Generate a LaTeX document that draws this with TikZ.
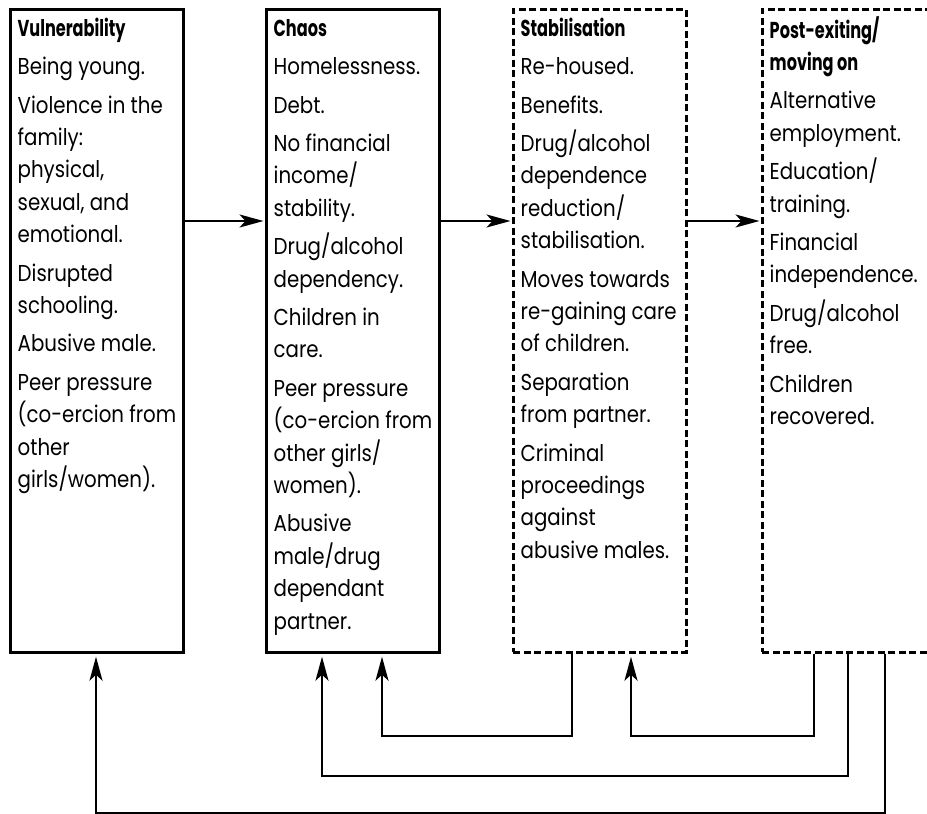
\documentclass[tikz,border=0pt]{standalone}
\usepackage{fontspec}
\setmainfont{Poppins}[FakeStretch=0.86]
\newfontfamily\headfont{Poppins}[FakeStretch=0.70]
\usetikzlibrary{arrows.meta}

\tikzset{
  stage/.style={draw, line width=2.7pt, minimum width=173pt, minimum height=643pt, anchor=north west, inner sep=0pt},
  later/.style={stage, dash pattern=on 7pt off 3.5pt},
  items/.style={anchor=north west, align=left, inner sep=0pt, font=\fontsize{23}{32.4}\selectfont},
  flow/.style={line width=2.3pt, ->, shorten >=3pt},
}
\newcommand{\stagehead}[1]{\rule{0pt}{20pt}{\headfont\bfseries #1}}

\begin{document}
\begin{tikzpicture}[x=1pt, y=-1pt, line join=miter, >={Stealth[length=24pt,width=13pt,inset=6pt]}]
\useasboundingbox (0,0) rectangle (927,814);
\clip (0,0) rectangle (927,814);
% the four stages
\foreach \n/\x/\s in {vul/9/stage, chaos/265/stage, stab/512/later, post/761/later}
  \node[\s] (\n) at (\x,8) {};
\node[items] (vultxt) at ([shift={(8.5,8)}]vul.north west)
  {\stagehead{Vulnerability}\\[6pt]
   Being young.\\[6pt]
   Violence in the\\family:\\physical,\\sexual, and\\emotional.\\[6pt]
   Disrupted\\schooling.\\[6pt]
   Abusive male.\\[6pt]
   Peer pressure\\(co-ercion from\\other\\girls/women).};
\node[items] (chaostxt) at ([shift={(8.5,8)}]chaos.north west)
  {\stagehead{Chaos}\\[6pt]
   Homelessness.\\[6pt]
   Debt.\\[6pt]
   No financial\\income/\\stability.\\[6pt]
   Drug/alcohol\\dependency.\\[6pt]
   Children in\\care.\\[6pt]
   Peer pressure\\(co-ercion from\\other girls/\\women).\\[6pt]
   Abusive\\male/drug\\dependant\\partner.};
\node[items] (stabtxt) at ([shift={(8.5,8)}]stab.north west)
  {\stagehead{Stabilisation}\\[6pt]
   Re-housed.\\[6pt]
   Benefits.\\[6pt]
   Drug/alcohol\\dependence\\reduction/\\stabilisation.\\[6pt]
   Moves towards\\re-gaining care\\of children.\\[6pt]
   Separation\\from partner.\\[6pt]
   Criminal\\proceedings\\against\\abusive males.};
\node[items] (posttxt) at ([shift={(8.5,8)}]post.north west)
  {\stagehead{Post-exiting/}\\{\headfont\bfseries moving on}\\[6pt]
   Alternative\\employment.\\[6pt]
   Education/\\training.\\[6pt]
   Financial\\independence.\\[6pt]
   Drug/alcohol\\free.\\[6pt]
   Children\\recovered.};
% forward arrows
\coordinate (lvl) at (0,221);
\foreach \a/\b in {vul/chaos, chaos/stab, stab/post}
  \draw[line width=2.3pt, ->, shorten >=1.5pt] (\a.east |- lvl) -- (\b.west |- lvl);
% arrows back
\draw[flow] ([xshift=60pt]stab.south west) -- ++(0,82) -| ([xshift=117pt]chaos.south west);
\draw[flow] ([xshift=53pt]post.south west) -- ++(0,82) -| ([xshift=119pt]stab.south west);
\draw[flow] ([xshift=87pt]post.south west) -- ++(0,122) -| ([xshift=57pt]chaos.south west);
\draw[flow] ([xshift=124pt]post.south west) -- ++(0,159) -| ([xshift=87pt]vul.south west);
\end{tikzpicture}
\end{document}
